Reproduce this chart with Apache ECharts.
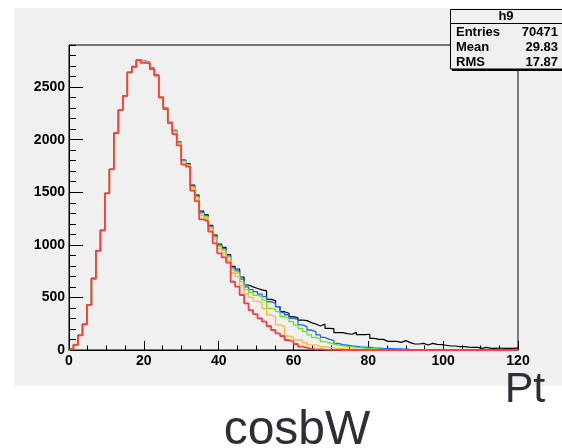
<!DOCTYPE html>
<html>
<head>
<meta charset="utf-8">
<script src="https://cdn.jsdelivr.net/npm/echarts@6/dist/echarts.min.js"></script>
<style>
html,body{margin:0;padding:0;background:#ffffff;}
#wrap{position:relative;width:562px;height:448px;overflow:hidden;}
#pad{position:absolute;left:14px;top:8px;width:548px;height:378px;background:#f0f0f0;}
#c{position:absolute;left:0;top:0;width:562px;height:448px;}
</style>
</head>
<body>
<div id="wrap"><div id="pad"></div><div id="c"></div></div>
<script>
// ---- axis definition ----
const xMin = 0, xMax = 120, binWidth = 1.2;
const yMin = 0, yMax = 2900;
const xMajor = 20, xMinorSplit = 4;
const yMajor = 500, yMinor = 100;

// ---- histogram contents (100 bins of width 1.2) ----
const blackCounts = [
  15,50,140,245,430,680,945,1138,1490,1718,
  2062,2283,2416,2640,2693,2757,2745,2735,2680,2615,
  2405,2303,2166,2088,1976,1805,1772,1568,1472,1320,
  1285,1185,1092,1008,975,908,795,770,694,618,
  600,585,572,562,481,470,412,364,349,317,
  307,285,279,260,247,228,247,206,203,165,
  165,155,150,168,146,146,150,111,101,101,
  82,82,82,73,89,70,57,57,63,48,
  63,54,51,45,38,38,32,32,28,25,
  25,16,25,16,16,19,15,16,15,20
];
const blueCounts = [
  15,50,140,245,430,680,945,1138,1490,1718,
  2062,2283,2416,2640,2693,2757,2748,2733,2676,2612,
  2403,2303,2164,2085,1974,1803,1768,1560,1465,1310,
  1278,1178,1085,998,965,895,780,752,675,600,
  575,555,532,507,459,443,412,355,335,302,
  290,238,222,190,174,143,120,101,89,63,
  50,45,40,35,30,28,25,20,18,15,
  14,12,10,10,9,5,3,2,2,1,
  1,1,0,0,0,0,0,0,0,0,
  0,0,0,0,0,0,0,0,0,0
];
const greenCounts = [
  15,50,140,245,430,680,945,1138,1490,1718,
  2062,2283,2416,2640,2693,2757,2740,2732,2675,2612,
  2404,2300,2165,2080,1970,1795,1760,1550,1455,1298,
  1268,1165,1072,985,950,880,760,730,650,575,
  545,520,507,475,396,387,364,317,301,269,
  238,206,174,143,120,101,79,70,57,48,
  40,35,30,25,20,15,12,10,8,6,
  4,3,2,2,1,1,0,0,0,0,
  0,0,0,0,0,0,0,0,0,0,
  0,0,0,0,0,0,0,0,0,0
];
const yellowCounts = [
  15,50,140,245,430,680,945,1138,1490,1718,
  2062,2283,2416,2642,2695,2757,2740,2735,2674,2612,
  2405,2298,2168,2075,1962,1790,1755,1540,1445,1280,
  1255,1150,1055,965,925,855,735,700,615,535,
  500,465,450,396,333,317,238,228,133,120,
  95,95,70,48,48,32,32,22,22,13,
  12,10,8,6,4,3,2,1,1,0,
  0,0,0,0,0,0,0,0,0,0,
  0,0,0,0,0,0,0,0,0,0,
  0,0,0,0,0,0,0,0,0,0
];
const redCounts = [
  15,50,140,245,430,680,945,1138,1490,1718,
  2062,2283,2416,2640,2693,2757,2730,2728,2670,2608,
  2400,2291,2158,2053,1946,1765,1743,1515,1416,1242,
  1223,1125,1014,919,881,830,649,602,523,444,
  380,342,301,269,228,190,158,133,95,79,
  57,32,22,10,6,5,3,2,2,1,
  0,0,0,0,0,0,0,0,0,0,
  0,0,0,0,0,0,0,0,0,0,
  0,0,0,0,0,0,0,0,0,0,
  0,0,0,0,0,0,0,0,0,0
];

// ---- texts ----
const histName = 'h9';
const statLabels = ['Entries', 'Mean', 'RMS'];
const statValues = ['70471', '29.83', '17.87'];
const xTitle = 'Pt';
const caption = 'cosbW';

const FONT = '"Liberation Sans", Arial, Helvetica, sans-serif';

function steps(counts) {
  const pts = [[xMin, 0]];
  counts.forEach((v, i) => pts.push([xMin + i * binWidth, v]));
  pts.push([xMax, counts[counts.length - 1]]);
  return pts;
}
function hist(name, counts, color, width) {
  return {
    name: name, type: 'line', step: 'end', data: steps(counts),
    symbol: 'none', animation: false, silent: true,
    xAxisIndex: 0, yAxisIndex: 0,
    lineStyle: { color: color, width: width }
  };
}

const chart = echarts.init(document.getElementById('c'), null, { renderer: 'canvas' });

const statGraphics = [];
statLabels.forEach((lab, i) => {
  statGraphics.push({
    type: 'text', x: 456, y: 32 + i * 15, z: 102,
    style: { text: lab, font: 'bold 13px ' + FONT, fill: '#000', textAlign: 'left', textVerticalAlign: 'middle' }
  });
  statGraphics.push({
    type: 'text', x: 558, y: 32 + i * 15, z: 102,
    style: { text: statValues[i], font: 'bold 13px ' + FONT, fill: '#000', textAlign: 'right', textVerticalAlign: 'middle' }
  });
});

const plain = v => String(v);

chart.setOption({
  backgroundColor: 'transparent',
  animation: false,
  grid: {
    left: 69, top: 45, right: 44, bottom: 98,
    show: true, borderColor: '#000', borderWidth: 1, backgroundColor: 'transparent'
  },
  xAxis: [{
    type: 'value', min: xMin, max: xMax, interval: xMajor,
    axisLine: { show: true, onZero: false, lineStyle: { color: '#000', width: 1 } },
    axisTick: { show: true, inside: true, length: 9, lineStyle: { color: '#000' } },
    minorTick: { show: true, splitNumber: xMinorSplit, length: 4.5, lineStyle: { color: '#000' } },
    axisLabel: { color: '#000', fontFamily: FONT, fontWeight: 'bold', fontSize: 14, margin: 4, formatter: plain },
    splitLine: { show: false }, minorSplitLine: { show: false }
  }],
  yAxis: [{
    type: 'value', min: yMin, max: yMax, interval: yMajor,
    axisLine: { show: true, onZero: false, lineStyle: { color: '#000', width: 1 } },
    axisTick: { show: true, inside: true, length: 14, lineStyle: { color: '#000' } },
    axisLabel: { color: '#000', fontFamily: FONT, fontWeight: 'bold', fontSize: 14, margin: 4, showMaxLabel: false, formatter: plain },
    splitLine: { show: false }
  }, {
    type: 'value', min: yMin, max: yMax, interval: yMinor, position: 'left', offset: 0,
    axisLine: { show: false },
    axisTick: { show: true, inside: true, length: 7, lineStyle: { color: '#000' } },
    axisLabel: { show: false },
    splitLine: { show: false }
  }],
  series: [
    hist('black', blackCounts, '#000000', 1.2),
    hist('blue', blueCounts, '#2060ff', 1.3),
    hist('green', greenCounts, '#66e81a', 1.3),
    hist('yellow', yellowCounts, '#ffb830', 1.3),
    hist('red', redCounts, '#ff3b3b', 1.8)
  ],
  graphic: [
    { type: 'rect', z: 100, shape: { x: 452, y: 11, width: 130, height: 60 }, style: { fill: '#000' } },
    { type: 'rect', z: 101, shape: { x: 450.5, y: 9.5, width: 130, height: 59.5 }, style: { fill: '#f0f0f0', stroke: '#000', lineWidth: 1 } },
    { type: 'line', z: 102, shape: { x1: 450.5, y1: 23.5, x2: 562, y2: 23.5 }, style: { stroke: '#000', lineWidth: 1 } },
    { type: 'text', x: 506, y: 16, z: 102, style: { text: histName, font: 'bold 13px ' + FONT, fill: '#000', textAlign: 'center', textVerticalAlign: 'middle' } }
  ].concat(statGraphics).concat([
    { type: 'text', x: 525, y: 390, z: 102, style: { text: xTitle, font: '43px ' + FONT, fill: '#2e2e36', textAlign: 'center', textVerticalAlign: 'middle' } },
    { type: 'text', x: 297, y: 431, z: 102, style: { text: caption, font: '48px ' + FONT, fill: '#2e2e36', textAlign: 'center', textVerticalAlign: 'middle' } }
  ])
});
</script>
</body>
</html>
